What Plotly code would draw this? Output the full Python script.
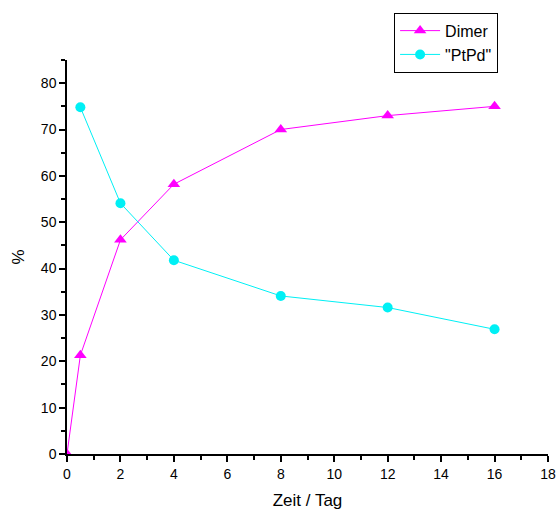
import plotly.graph_objects as go

days_dimer = [0, 0.5, 2, 4, 8, 12, 16]
dimer = [0, 21.3, 46.2, 58.2, 70.0, 73.0, 75.0]
days_ptpd = [0.5, 2, 4, 8, 12, 16]
ptpd = [74.8, 54.1, 41.8, 34.1, 31.6, 26.9]

fig = go.Figure()
fig.add_trace(go.Scatter(x=days_dimer, y=dimer, name="Dimer", mode="lines+markers",
                         line=dict(color="#FF00FF", width=1),
                         marker=dict(symbol="triangle-up", size=11, color="#FF00FF")))
fig.add_trace(go.Scatter(x=days_ptpd, y=ptpd, name='"PtPd"', mode="lines+markers",
                         line=dict(color="#00F0F5", width=1),
                         marker=dict(symbol="circle", size=10, color="#00F0F5")))

axis_common = dict(showgrid=False, zeroline=False, showline=True, linecolor="black", linewidth=1.5,
                   ticks="outside", ticklen=6, tickwidth=1.5, tickcolor="black", automargin=False,
                   tickfont=dict(family="Liberation Sans, Arial", size=14, color="black"))
fig.update_xaxes(range=[0, 18], dtick=2, title=dict(text="Zeit / Tag", font=dict(size=17, family="Liberation Sans, Arial", color="black"), standoff=14),
                 minor=dict(ticks="outside", dtick=1, ticklen=4, tickcolor="black", tickwidth=1.5), **axis_common)
fig.update_yaxes(range=[0, 85], dtick=10, title=dict(text="%", font=dict(size=17, family="Liberation Sans, Arial", color="black"), standoff=12),
                 minor=dict(ticks="outside", dtick=5, ticklen=4, tickcolor="black", tickwidth=1.5), **axis_common)

fig.update_layout(width=559, height=511, margin=dict(l=67, r=11, t=60, b=57),
                  plot_bgcolor="white", paper_bgcolor="white",
                  font=dict(family="Liberation Sans, Arial", color="black"),
                  legend=dict(x=0.68, y=1.12, xanchor="left", yanchor="top", bordercolor="black", borderwidth=1,
                              font=dict(size=16), bgcolor="white", tracegroupgap=0, itemwidth=40))
fig.write_html("out.html")
